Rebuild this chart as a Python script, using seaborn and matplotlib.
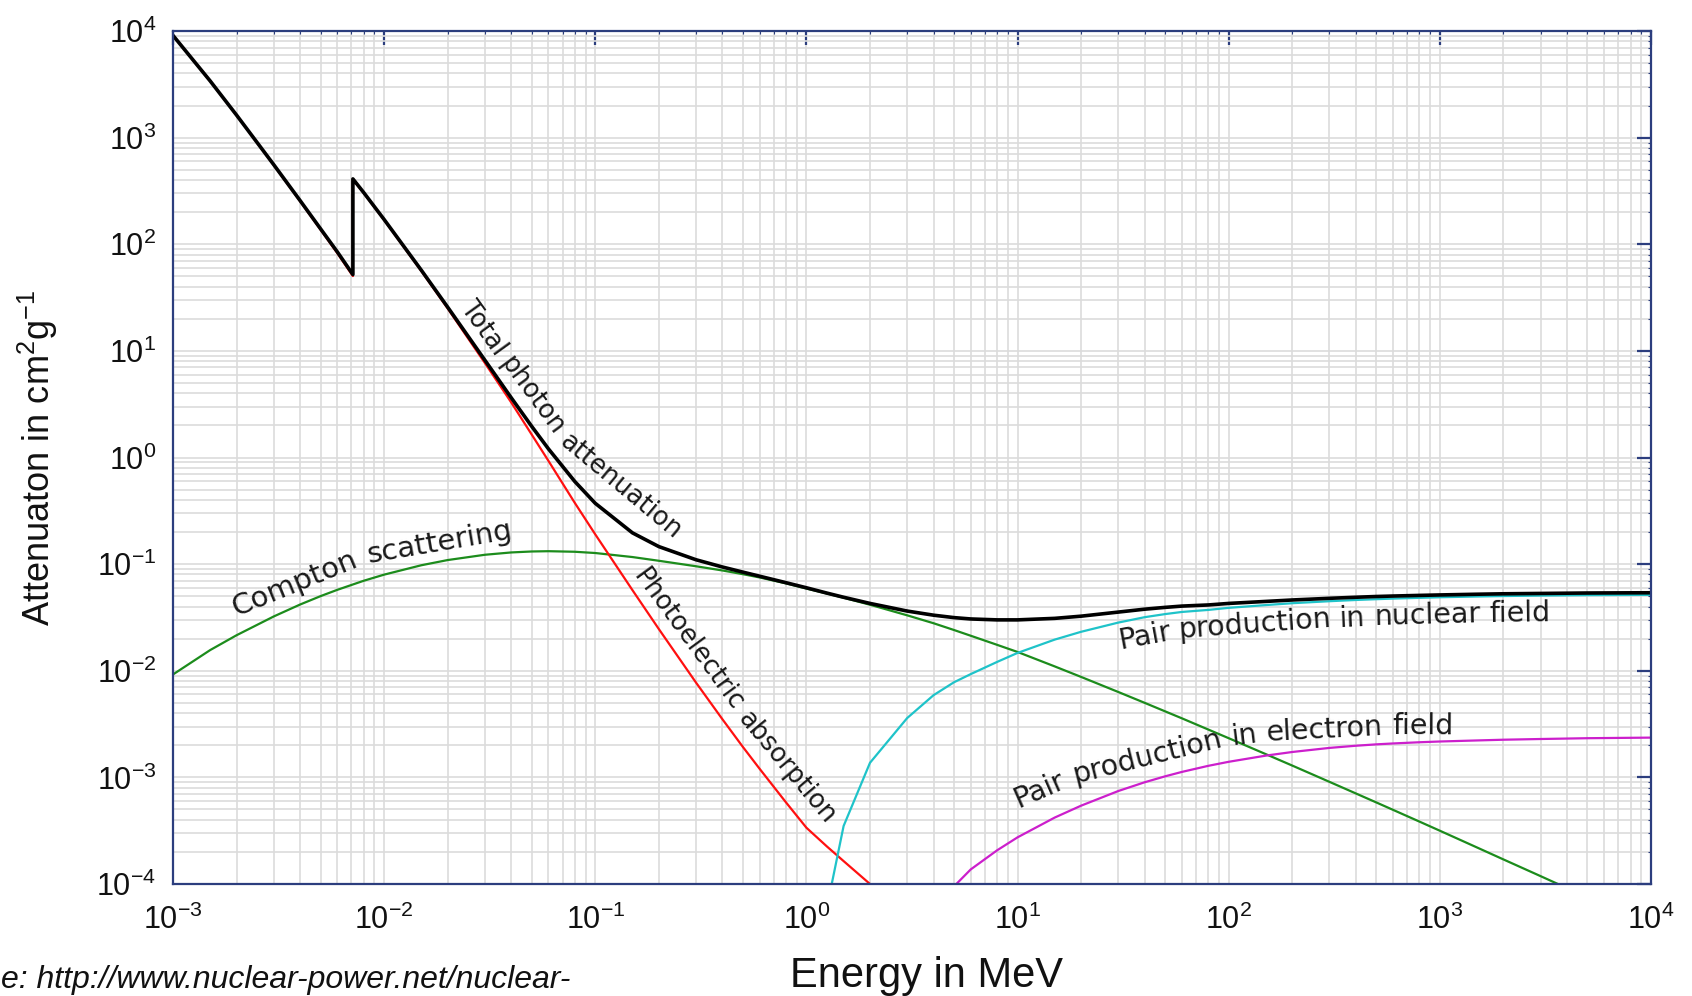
import numpy as np
import matplotlib
matplotlib.use("Agg")
import matplotlib.pyplot as plt
import seaborn as sns
from matplotlib.ticker import LogLocator, LogFormatterSciNotation, NullFormatter

# photon attenuation in iron, cm2/g
energy_total = [0.001, 0.0015, 0.002, 0.003, 0.004, 0.005, 0.006, 0.007112, 0.007112,
                0.008, 0.01, 0.015, 0.02, 0.03, 0.04, 0.05, 0.06, 0.08,
                0.1, 0.15, 0.2, 0.3, 0.4, 0.5, 0.6, 0.8,
                1.0, 1.25, 1.5, 2.0, 3.0, 4.0, 5.0, 6.0, 8.0,
                10.0, 15.0, 20.0, 30.0, 40.0, 50.0, 60.0, 80.0,
                100.0, 150.0, 200.0, 300.0, 400.0, 500.0, 600.0, 800.0,
                1000.0, 1500.0, 2000.0, 3000.0, 5000.0, 10000.0]
total = [9085, 3399, 1626, 557.6, 256.7, 139.5, 84.84, 52.0, 410.0,
         305.6, 170.6, 57.08, 25.68, 8.176, 3.629, 1.958, 1.205, 0.5952,
         0.3717, 0.1964, 0.146, 0.1099, 0.094, 0.08414, 0.07704, 0.06699,
         0.0600, 0.0535, 0.0489, 0.0428, 0.0363, 0.0332, 0.0315, 0.0306, 0.0300,
         0.0300, 0.0310, 0.0325, 0.0355, 0.0378, 0.0393, 0.0404, 0.0414,
         0.0428, 0.0447, 0.0461, 0.0478, 0.0489, 0.0497, 0.0502, 0.0509,
         0.0514, 0.0522, 0.0527, 0.0531, 0.0536, 0.0539]

energy_photo = energy_total[:31]
photo = [9076, 3394, 1621, 553.5, 253.5, 137.0, 82.6, 50.3, 405.5,
         303.6, 169.0, 56.1, 25.0, 7.70, 3.28, 1.64, 0.93, 0.375,
         0.19, 0.0570, 0.0246, 0.00774, 0.00351, 0.00193, 0.001205, 5.83e-4,
         3.37e-4, 2.25e-4, 1.64e-4, 1.0e-4, 5.25e-5]

energy_compton = [0.001, 0.0015, 0.002, 0.003, 0.004, 0.005, 0.006, 0.008, 0.01, 0.015,
                  0.02, 0.03, 0.04, 0.05, 0.06, 0.08, 0.1, 0.15, 0.2, 0.3,
                  0.4, 0.5, 0.6, 0.8, 1.0, 1.25, 1.5, 2.0, 3.0, 4.0,
                  5.0, 6.0, 8.0, 10.0, 15.0, 20.0, 30.0, 40.0, 50.0, 60.0,
                  80.0, 100.0, 150.0, 200.0, 300.0, 400.0, 500.0, 600.0, 800.0, 1000.0,
                  1500.0, 2000.0, 3000.0, 4000.0, 5000.0]
compton = [0.00923, 0.01563, 0.02153, 0.0323, 0.0418, 0.0501, 0.0574, 0.0698, 0.0797, 0.0976,
           0.1092, 0.1224, 0.1287, 0.1314, 0.1322, 0.1306, 0.1271, 0.1165, 0.1075, 0.0955,
           0.0872, 0.0805, 0.0750, 0.0660, 0.0590, 0.0530, 0.0484, 0.0416, 0.0331, 0.0279,
           0.0241, 0.0213, 0.0175, 0.0150, 0.01098, 0.00875, 0.00632, 0.00500, 0.00416, 0.00358,
           0.00281, 0.00233, 0.00165, 0.00129, 0.000908, 0.000707, 0.000582, 0.000496, 0.000385, 0.000316,
           0.000220, 0.000170, 0.0001185, 0.0000915, 0.000075]

energy_nuclear = [1.25, 1.5, 2.0, 3.0, 4.0, 5.0, 6.0, 8.0, 10.0, 15.0,
                  20.0, 30.0, 40.0, 50.0, 60.0, 80.0, 100.0, 150.0, 200.0, 300.0,
                  400.0, 500.0, 600.0, 800.0, 1000.0, 1500.0, 2000.0, 3000.0, 5000.0, 10000.0]
pair_nuclear = [6e-5, 3.5e-4, 1.37e-3, 3.6e-3, 5.9e-3, 7.8e-3, 9.3e-3, 0.0121, 0.0147, 0.0196,
                0.0232, 0.0283, 0.0318, 0.0340, 0.0356, 0.0372, 0.0389, 0.0413, 0.0430, 0.0449,
                0.0461, 0.0469, 0.0475, 0.0483, 0.0489, 0.0497, 0.0502, 0.0507, 0.0512, 0.0515]

energy_electron = [4.0, 5.0, 6.0, 8.0, 10.0, 15.0, 20.0, 30.0, 40.0, 50.0,
                   60.0, 80.0, 100.0, 150.0, 200.0, 300.0, 400.0, 500.0, 600.0, 800.0,
                   1000.0, 1500.0, 2000.0, 3000.0, 5000.0, 10000.0]
pair_electron = [2.5e-5, 9.5e-5, 1.37e-4, 2.07e-4, 2.74e-4, 4.2e-4, 5.43e-4, 7.45e-4, 9.0e-4, 1.023e-3,
                 1.125e-3, 1.283e-3, 1.40e-3, 1.60e-3, 1.73e-3, 1.89e-3, 1.98e-3, 2.04e-3, 2.08e-3, 2.135e-3,
                 2.17e-3, 2.22e-3, 2.255e-3, 2.29e-3, 2.33e-3, 2.36e-3]

NAVY = "#2c3e7e"
LABEL_FONT = "DejaVu Sans"

sns.set_theme(style="white")
plt.rcParams["font.family"] = ["Liberation Sans", "DejaVu Sans"]
plt.rcParams["mathtext.fontset"] = "custom"
plt.rcParams["mathtext.rm"] = "Liberation Sans"
plt.rcParams["mathtext.it"] = "Liberation Sans:italic"


def path_label(ax, energy, values, text, e_start, offsets, size):
    """Lay the words of a label along a curve, offset by a number of pixels."""
    renderer = ax.figure.canvas.get_renderer()

    def width(s):
        t = ax.figure.text(0.5, 0.5, s, fontsize=size, family=LABEL_FONT)
        w = t.get_window_extent(renderer).width
        t.remove()
        return w

    words = text.split()
    widths = [width(w) for w in words]
    gap = width("n n") - width("nn")
    length = sum(widths) + gap * (len(words) - 1)

    e = np.asarray(energy, float)
    v = np.asarray(values, float)
    keep = e > e_start / 2
    le, lv = np.log10(e[keep]), np.log10(v[keep])
    grid = np.linspace(np.log10(e_start), le[-1], 2000)
    pts = ax.transData.transform(np.column_stack([10 ** grid, 10 ** np.interp(grid, le, lv)]))
    tang = np.gradient(pts, axis=0)
    tang /= np.hypot(tang[:, 0], tang[:, 1])[:, None]
    normal = np.column_stack([-tang[:, 1], tang[:, 0]])
    s_curve = np.concatenate([[0], np.cumsum(np.hypot(*np.diff(pts, axis=0).T))])
    d = offsets[0] + (offsets[1] - offsets[0]) * np.clip(s_curve / length, 0, 1)
    path = pts + d[:, None] * normal
    s_path = np.concatenate([[0], np.cumsum(np.hypot(*np.diff(path, axis=0).T))])

    def at(s):
        return np.array([np.interp(s, s_path, path[:, 0]), np.interp(s, s_path, path[:, 1])])

    inv = ax.transData.inverted()
    s = 0.0
    for word, w in zip(words, widths):
        p0, p1 = at(s), at(s + w)
        ang = np.degrees(np.arctan2(p1[1] - p0[1], p1[0] - p0[0]))
        x, y = inv.transform(p0)
        ax.text(x, y, word, fontsize=size, family=LABEL_FONT, color="#1a1a1a",
                rotation=ang, rotation_mode="anchor", ha="left", va="baseline")
        s += w + gap


fig, ax = plt.subplots(figsize=(16.92, 9.96), dpi=100)
fig.subplots_adjust(left=173 / 1692, right=1651 / 1692, bottom=1 - 884 / 996, top=1 - 31 / 996)

sns.lineplot(x=energy_compton, y=compton, ax=ax, color="#1c8c1c", lw=1.6, estimator=None, sort=False)
sns.lineplot(x=energy_photo, y=photo, ax=ax, color="#ff1010", lw=1.6, estimator=None, sort=False)
sns.lineplot(x=energy_nuclear, y=pair_nuclear, ax=ax, color="#1fc3c9", lw=1.6, estimator=None, sort=False)
sns.lineplot(x=energy_electron, y=pair_electron, ax=ax, color="#cc1fcc", lw=1.6, estimator=None, sort=False)
sns.lineplot(x=energy_total, y=total, ax=ax, color="black", lw=2.6, estimator=None, sort=False)

ax.set_xscale("log")
ax.set_yscale("log")
ax.set_xlim(1e-3, 1e4)
ax.set_ylim(1e-4, 1e4)

for axis in (ax.xaxis, ax.yaxis):
    axis.set_major_locator(LogLocator(base=10, numticks=20))
    axis.set_minor_locator(LogLocator(base=10, subs=np.arange(2, 10), numticks=200))
    axis.set_major_formatter(LogFormatterSciNotation())
    axis.set_minor_formatter(NullFormatter())

ax.set_axisbelow(True)
ax.grid(True, which="both", color="#dcdcdc", lw=1.2)
for sp in ax.spines.values():
    sp.set_color(NAVY)
    sp.set_linewidth(1.6)
ax.tick_params(which="major", direction="in", length=10, width=1.6, color=NAVY,
               top=True, right=True, labelsize=22, labelcolor="#111111")
ax.tick_params(axis="x", which="major", pad=15)
ax.tick_params(axis="y", which="major", pad=12)
ax.tick_params(which="minor", direction="in", length=2, width=0.8, color=NAVY, top=True, right=True)

ax.set_xlabel("Energy in MeV", fontsize=30, va="baseline", color="#111111")
ax.xaxis.set_label_coords(0.5095, -0.1208)
ax.set_ylabel("Attenuaton in cm$^2$g$^{-1}$", fontsize=26, color="#111111")
ax.yaxis.set_label_coords(-0.0765, 0.5)

path_label(ax, energy_total, total, "Total photon attenuation", 0.021, (9, 13), 18.5)
path_label(ax, energy_compton, compton, "Compton scattering", 0.00217, (17, 14), 21)
path_label(ax, energy_photo, photo, "Photoelectric absorption", 0.14, (8, 16), 18.5)
path_label(ax, energy_nuclear, pair_nuclear, "Pair production in nuclear field", 28.5, (-26, -26), 20.5)
path_label(ax, energy_electron, pair_electron, "Pair production in electron field", 11.5, (26, 6), 20.5)

# the source line is cropped by the left edge of the original picture
fig.text(1 / 1692, 8 / 996, "e: http://www.nuclear-power.net/nuclear-", fontsize=23,
         style="italic", color="#111111", ha="left", va="baseline")

fig.savefig("out.png", dpi=100)
